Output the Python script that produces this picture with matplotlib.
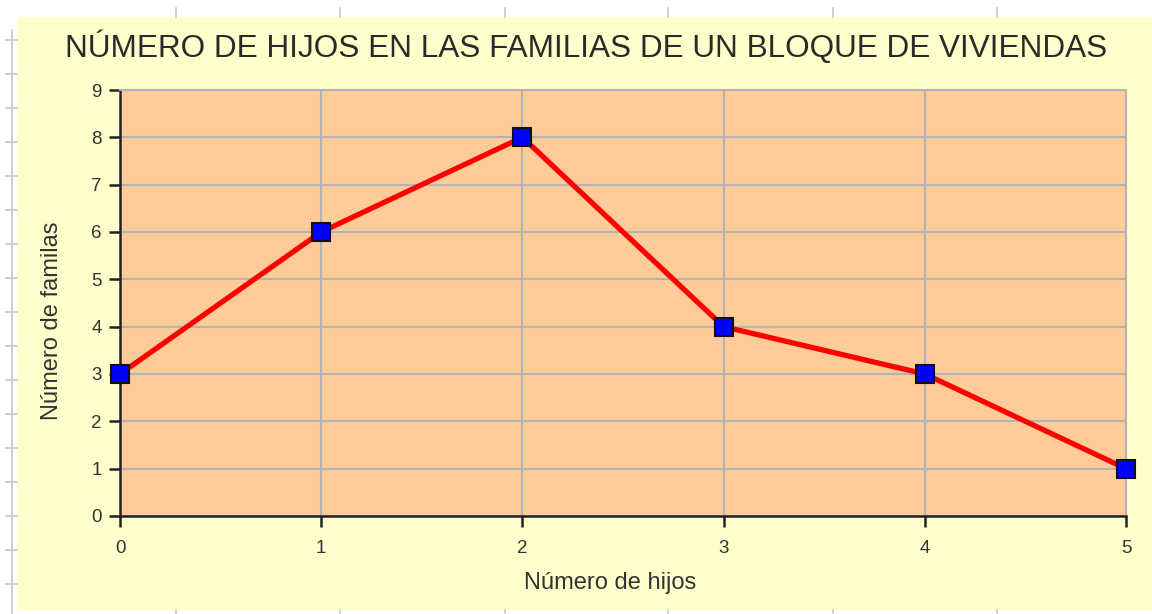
import matplotlib
matplotlib.use('Agg')
import matplotlib.pyplot as plt
from matplotlib.patches import Rectangle
from matplotlib.lines import Line2D

plt.rcParams['font.family'] = ['Liberation Sans', 'DejaVu Sans']

# datos
hijos = [0, 1, 2, 3, 4, 5]
familias = [3, 6, 8, 4, 3, 1]
y_ticks = list(range(0, 10))

W, H = 1152, 614
fig = plt.figure(figsize=(W / 100, H / 100), dpi=100)
fig.patch.set_facecolor('white')

# fondo amarillo del gráfico (hoja de cálculo)
fig.patches.append(Rectangle((17 / W, 1 - 610 / H), (W - 17) / W, (610 - 17) / H,
                             transform=fig.transFigure, facecolor='#ffffcc',
                             edgecolor='none', zorder=-10))

# marcas de la hoja de cálculo
fig.lines.append(Line2D([12 / W, 12 / W], [0, 1 - 30 / H], transform=fig.transFigure,
                        color='#c8c8c8', lw=1.2, zorder=-5))
for yp in range(40, 614, 34):
    fig.lines.append(Line2D([6 / W, 17 / W], [1 - yp / H] * 2, transform=fig.transFigure,
                            color='#c8c8c8', lw=1.2, zorder=-5))
for xp in [176, 340, 505, 668, 833, 997]:
    fig.lines.append(Line2D([xp / W] * 2, [1 - 8 / H, 1 - 17 / H], transform=fig.transFigure,
                            color='#c8c8c8', lw=1.2, zorder=-5))
    fig.lines.append(Line2D([xp / W] * 2, [0, 4 / H], transform=fig.transFigure,
                            color='#c8c8c8', lw=1.2, zorder=-5))

ax = fig.add_axes([120 / W, 1 - 516 / H, (1126 - 120) / W, (516 - 90) / H])
ax.set_facecolor('#ffcc99')

ax.plot(hijos, familias, color='#ff0000', lw=3.8, marker='s', markersize=13,
        markerfacecolor='#0000ff', markeredgecolor='#111111', markeredgewidth=1.5,
        clip_on=False, zorder=5)

ax.set_xlim(0, 5)
ax.set_ylim(0, 9)
ax.set_xticks(hijos)
ax.set_yticks(y_ticks)
ax.grid(True, color='#b3b3b3', lw=1.5)
ax.set_axisbelow(True)

for s in ['top', 'right']:
    ax.spines[s].set_color('#b3b3b3')
    ax.spines[s].set_linewidth(1.5)
for s in ['left', 'bottom']:
    ax.spines[s].set_color('#222222')
    ax.spines[s].set_linewidth(1.8)

ax.tick_params(axis='both', direction='out', length=8, width=1.8, color='#222222',
               labelsize=13.5, labelcolor='#333333')
ax.tick_params(axis='x', pad=9)
ax.tick_params(axis='y', pad=5)

# rótulos de los ejes (posición como en la hoja de cálculo)
fig.text(610 / W, 1 - 583 / H, 'Número de hijos', ha='center', va='center',
         fontsize=17, color='#333333')
fig.text(52 / W, 1 - 321 / H, 'Número de familas', ha='center', va='center',
         rotation=90, fontsize=17, color='#333333')

fig.text(586 / W, 1 - 47 / H, 'NÚMERO DE HIJOS EN LAS FAMILIAS DE UN BLOQUE DE VIVIENDAS',
         ha='center', va='center', fontsize=22.7, color='#2a2a2a')

fig.savefig('out.png', dpi=100)
